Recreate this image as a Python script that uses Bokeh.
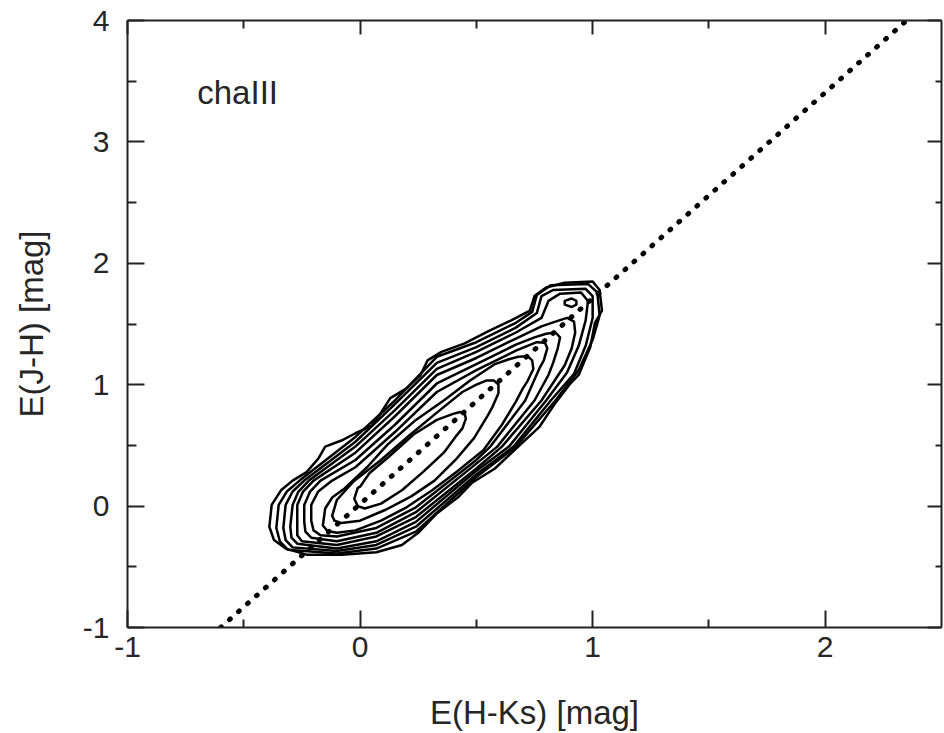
from bokeh.plotting import figure
from bokeh.models import Range1d, LinearAxis, FixedTicker
from bokeh.core.properties import value
from bokeh.embed import file_html
from bokeh.resources import INLINE

FONT = "Liberation Sans"
TXT = "#262626"

x_ticks = [-1, 0, 1, 2]
x_tick_labels = ["-1", "0", "1", "2"]
x_minor = [-0.5, 0.5, 1.5]
y_ticks = [-1, 0, 1, 2, 3, 4]
y_tick_labels = ["-1", "0", "1", "2", "3", "4"]
y_minor = [-0.5, 0.5, 1.5, 2.5, 3.5]

# reddening vector E(J-H)/E(H-Ks)
red_x = [-0.60, 2.35]
red_y = [-1.00, 4.00]

# density contours (outer -> inner)
c10_x = [-0.39, -0.38, -0.34, -0.29, -0.23, -0.18, -0.15, -0.08, -0.02, 0.05, 0.09, 0.13, 0.20, 0.26, 0.29, 0.35, 0.45, 0.55, 0.65, 0.73, 0.75, 0.80, 0.88, 1.00, 1.03, 1.04, 1.01, 0.99, 0.94, 0.90, 0.84, 0.77, 0.68, 0.58, 0.48, 0.42, 0.33, 0.25, 0.18, 0.07, -0.08, -0.23, -0.32, -0.37]
c10_y = [-0.17, 0.01, 0.13, 0.21, 0.28, 0.39, 0.49, 0.54, 0.60, 0.66, 0.77, 0.89, 0.97, 1.08, 1.20, 1.27, 1.34, 1.44, 1.53, 1.61, 1.73, 1.80, 1.84, 1.85, 1.78, 1.61, 1.51, 1.31, 1.08, 1.00, 0.85, 0.65, 0.49, 0.31, 0.19, 0.07, -0.06, -0.22, -0.32, -0.38, -0.40, -0.40, -0.35, -0.28]

c9_x = [-0.36, -0.35, -0.315, -0.26, -0.02, 0.15, 0.33, 0.50, 0.67, 0.74, 0.76, 0.82, 0.98, 1.02, 1.03, 1.00, 0.94, 0.84, 0.67, 0.50, 0.24, 0.07, -0.10, -0.31, -0.345]
c9_y = [-0.18, 0.01, 0.12, 0.21, 0.57, 0.87, 1.23, 1.35, 1.51, 1.60, 1.74, 1.82, 1.83, 1.76, 1.57, 1.37, 1.12, 0.87, 0.49, 0.24, -0.21, -0.35, -0.39, -0.36, -0.29]

c8_x = [-0.33, -0.32, -0.29, -0.24, -0.02, 0.15, 0.33, 0.50, 0.67, 0.76, 0.78, 0.83, 0.97, 1.00, 1.00, 0.97, 0.92, 0.82, 0.66, 0.50, 0.24, 0.07, -0.10, -0.29, -0.32]
c8_y = [-0.18, 0.01, 0.12, 0.21, 0.53, 0.84, 1.18, 1.31, 1.47, 1.59, 1.73, 1.78, 1.79, 1.73, 1.55, 1.32, 1.09, 0.87, 0.49, 0.26, -0.17, -0.32, -0.37, -0.34, -0.28]

c7_x = [-0.30, -0.29, -0.265, -0.22, -0.02, 0.15, 0.33, 0.50, 0.67, 0.78, 0.81, 0.86, 0.95, 0.98, 0.97, 0.94, 0.89, 0.80, 0.64, 0.50, 0.24, 0.07, -0.10, -0.27, -0.295]
c7_y = [-0.17, 0.01, 0.12, 0.21, 0.49, 0.79, 1.13, 1.27, 1.43, 1.55, 1.69, 1.75, 1.76, 1.69, 1.53, 1.32, 1.10, 0.87, 0.49, 0.29, -0.13, -0.29, -0.35, -0.31, -0.26]

c6_x = [-0.27, -0.27, -0.245, -0.20, -0.02, 0.15, 0.33, 0.50, 0.67, 0.78, 0.84, 0.89, 0.92, 0.925, 0.91, 0.88, 0.78, 0.61, 0.50, 0.24, 0.07, -0.10, -0.25, -0.27]
c6_y = [-0.16, 0.01, 0.12, 0.21, 0.44, 0.74, 1.08, 1.22, 1.38, 1.48, 1.52, 1.55, 1.52, 1.43, 1.30, 1.16, 0.87, 0.49, 0.31, -0.09, -0.25, -0.32, -0.29, -0.24]

c5_x = [-0.24, -0.24, -0.215, -0.17, -0.02, 0.15, 0.33, 0.50, 0.67, 0.75, 0.80, 0.84, 0.86, 0.85, 0.83, 0.81, 0.75, 0.59, 0.50, 0.24, 0.07, -0.10, -0.21, -0.235]
c5_y = [-0.13, 0.01, 0.12, 0.21, 0.38, 0.67, 1.01, 1.17, 1.33, 1.39, 1.42, 1.43, 1.39, 1.30, 1.18, 1.08, 0.87, 0.49, 0.35, -0.05, -0.22, -0.29, -0.26, -0.21]

c4_x = [-0.21, -0.21, -0.18, -0.12, -0.02, 0.15, 0.33, 0.50, 0.67, 0.72, 0.76, 0.795, 0.805, 0.79, 0.77, 0.71, 0.56, 0.50, 0.24, 0.07, -0.10, -0.17, -0.20]
c4_y = [-0.12, 0.01, 0.12, 0.21, 0.32, 0.61, 0.94, 1.12, 1.28, 1.32, 1.35, 1.345, 1.30, 1.20, 1.13, 0.87, 0.49, 0.38, -0.01, -0.18, -0.25, -0.24, -0.20]

c3_x = [-0.16, -0.15, -0.12, -0.07, 0.03, 0.12, 0.24, 0.36, 0.47, 0.58, 0.64, 0.68, 0.72, 0.74, 0.745, 0.72, 0.70, 0.67, 0.61, 0.53, 0.42, 0.31, 0.20, 0.09, -0.02, -0.10, -0.14]
c3_y = [-0.16, -0.02, 0.07, 0.14, 0.32, 0.51, 0.71, 0.87, 1.03, 1.17, 1.21, 1.23, 1.235, 1.20, 1.13, 1.03, 0.97, 0.86, 0.67, 0.46, 0.29, 0.13, -0.01, -0.12, -0.20, -0.22, -0.205]

c2_x = [-0.12, -0.10, -0.03, 0.09, 0.21, 0.33, 0.44, 0.50, 0.545, 0.575, 0.595, 0.595, 0.57, 0.55, 0.49, 0.41, 0.32, 0.22, 0.11, 0.00, -0.08, -0.11]
c2_y = [-0.08, 0.05, 0.20, 0.38, 0.58, 0.77, 0.94, 1.00, 1.035, 1.035, 1.00, 0.93, 0.82, 0.75, 0.56, 0.38, 0.21, 0.08, -0.03, -0.12, -0.14, -0.12]

c1_x = [-0.025, -0.01, 0.00, 0.04, 0.12, 0.23, 0.33, 0.40, 0.43, 0.45, 0.455, 0.44, 0.41, 0.36, 0.27, 0.18, 0.09, 0.02, -0.01]
c1_y = [0.06, 0.15, 0.16, 0.27, 0.40, 0.59, 0.71, 0.76, 0.775, 0.76, 0.72, 0.64, 0.57, 0.44, 0.28, 0.13, 0.02, -0.02, 0.00]

# small island near the upper end
blob_x = [0.88, 0.91, 0.93, 0.93, 0.91, 0.88]
blob_y = [1.69, 1.71, 1.69, 1.66, 1.64, 1.66]

contour_xs = [c10_x, c9_x, c8_x, c7_x, c6_x, c5_x, c4_x, c3_x, c2_x, c1_x, blob_x]
contour_ys = [c10_y, c9_y, c8_y, c7_y, c6_y, c5_y, c4_y, c3_y, c2_y, c1_y, blob_y]

p = figure(
    frame_width=814, frame_height=607,
    x_range=Range1d(-1, 2.5), y_range=Range1d(-1, 4),
    output_backend="svg", toolbar_location=None,
    x_axis_label="E(H-Ks) [mag]", y_axis_label="E(J-H) [mag]",
    background_fill_color="white", border_fill_color="white",
)
p.min_border_left = 127
p.min_border_top = 20
p.min_border_bottom = 106
p.min_border_right = 2
p.grid.visible = False
p.outline_line_color = None

p.patches(contour_xs, contour_ys, fill_color=None, line_color="black",
          line_width=2.5, line_join="round")
p.line(red_x, red_y, line_color="black", line_width=5, line_dash="1 11", line_cap="round")
p.text(x=[-0.70], y=[3.41], text=["chaIII"], text_font=value(FONT), text_font_size="33px",
       text_color=TXT, text_baseline="alphabetic", text_align="left")

def style(ax, tin, mtin, labels):
    ax.axis_line_color = "#222222"
    ax.axis_line_width = 2
    ax.major_tick_line_color = "#222222"
    ax.minor_tick_line_color = "#222222"
    ax.major_tick_line_width = 2
    ax.minor_tick_line_width = 2
    ax.major_tick_in = tin
    ax.major_tick_out = 0
    ax.minor_tick_in = mtin
    ax.minor_tick_out = 0
    if labels:
        ax.major_label_text_font = FONT
        ax.major_label_text_font_size = "30px"
        ax.major_label_text_color = TXT
        ax.axis_label_text_font = FONT
        ax.axis_label_text_font_size = "33px"
        ax.axis_label_text_font_style = "normal"
        ax.axis_label_text_color = TXT
    else:
        ax.major_label_text_font_size = "1px"
        ax.major_label_text_color = None
        ax.major_label_standoff = 0
        ax.axis_label = None

xa = p.xaxis[0]
ya = p.yaxis[0]
xa.ticker = FixedTicker(ticks=x_ticks, minor_ticks=x_minor)
ya.ticker = FixedTicker(ticks=y_ticks, minor_ticks=y_minor)
xa.major_label_overrides = dict(zip(x_ticks, x_tick_labels))
ya.major_label_overrides = dict(zip(y_ticks, y_tick_labels))
style(xa, 17, 8, True)
style(ya, 17, 9, True)
xa.major_label_standoff = 9
xa.axis_label_standoff = 34
ya.major_label_standoff = 18
ya.axis_label_standoff = 30

top = LinearAxis(ticker=FixedTicker(ticks=x_ticks, minor_ticks=x_minor))
right = LinearAxis(ticker=FixedTicker(ticks=y_ticks, minor_ticks=y_minor))
style(top, 14, 8, False)
style(right, 14, 6, False)
p.add_layout(top, "above")
p.add_layout(right, "right")

open("out.html", "w").write(file_html(p, INLINE))
